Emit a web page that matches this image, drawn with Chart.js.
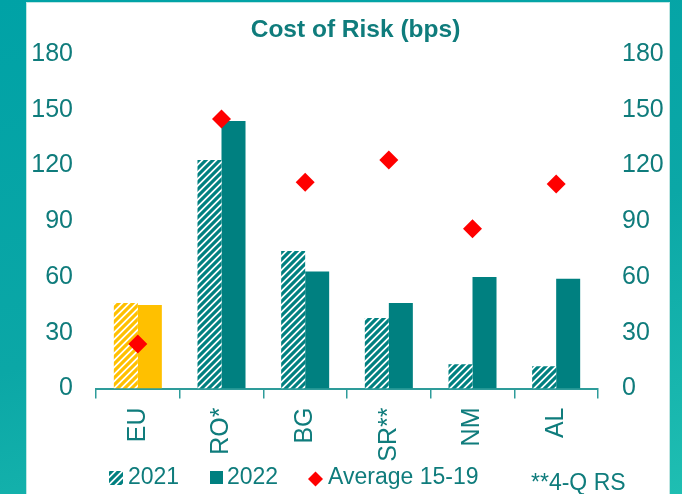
<!DOCTYPE html>
<html>
<head>
<meta charset="utf-8">
<script src="https://cdn.jsdelivr.net/npm/chart.js@4.4.1/dist/chart.umd.min.js"></script>
<style>
  html, body { margin: 0; padding: 0; }
  body {
    width: 682px; height: 494px; overflow: hidden; position: relative;
    background: linear-gradient(165deg, #00a2a6 0%, #0ba7a6 55%, #1fbeb2 100%);
  }
  #panel {
    position: absolute; left: 27px; top: 3px; width: 642px; height: 491px;
    background: #fff; box-shadow: 0 0 0 1px #bfe6e3;
  }
  #chart { display: block; }
</style>
</head>
<body>
<div id="panel"><canvas id="chart" width="642" height="491"></canvas></div>
<script>
// data (bps)
const categories = ['EU', 'RO*', 'BG', 'SR**', 'NM', 'AL'];
const cor2021 = [46, 123, 74, 38, 13, 12];
const cor2022 = [45, 144, 63, 46, 60, 59];
const avg1519 = [24, 145, 111, 123, 86, 110];
const yTicks = [0, 30, 60, 90, 120, 150, 180];

const TEAL = '#008080';
const YELLOW = '#FFC000';
const TEXT = '#0f7c7c';
const AXIS = '#2e9c9a';
const FONT = '"Liberation Sans", Arial, sans-serif';

// diagonal stripes like the excel pattern fill
function hatch(color) {
  const s = 7;
  const c = document.createElement('canvas');
  c.width = s; c.height = s;
  const g = c.getContext('2d');
  g.fillStyle = '#fff';
  g.fillRect(0, 0, s, s);
  g.strokeStyle = color;
  g.lineWidth = 3.2;
  g.beginPath();
  g.moveTo(-2, s + 2); g.lineTo(s + 2, -2);
  g.moveTo(-2, 2); g.lineTo(2, -2);
  g.moveTo(s - 2, s + 2); g.lineTo(s + 2, s - 2);
  g.stroke();
  return g.createPattern(c, 'repeat');
}
const tealHatch = hatch(TEAL);
const yellowHatch = hatch(YELLOW);

// EU is highlighted in yellow
const fill2021 = categories.map(c => c === 'EU' ? yellowHatch : tealHatch);
const fill2022 = categories.map(c => c === 'EU' ? YELLOW : TEAL);

const titleAndLegend = {
  id: 'titleAndLegend',
  afterDraw(chart) {
    const ctx = chart.ctx;
    ctx.save();
    ctx.fillStyle = TEXT;
    ctx.font = 'bold 24.5px ' + FONT;
    ctx.textAlign = 'center';
    ctx.textBaseline = 'middle';
    ctx.fillText('Cost of Risk (bps)', 328.5, 27);

    // legend
    ctx.textAlign = 'left';
    ctx.font = '23px ' + FONT;
    const ly = 475;
    ctx.fillStyle = tealHatch;
    ctx.fillRect(82, ly - 7, 14, 14);
    ctx.fillStyle = TEXT;
    ctx.fillText('2021', 101, ly);

    ctx.fillStyle = TEAL;
    ctx.fillRect(183, ly - 7, 13, 13);
    ctx.fillStyle = TEXT;
    ctx.fillText('2022', 200, ly);

    ctx.fillStyle = '#ff0000';
    ctx.beginPath();
    ctx.moveTo(281, ly + 1); ctx.lineTo(288.5, ly - 6.5);
    ctx.lineTo(296, ly + 1); ctx.lineTo(288.5, ly + 8.5);
    ctx.closePath();
    ctx.fill();
    ctx.fillStyle = TEXT;
    ctx.fillText('Average 15-19', 301, ly);

    ctx.fillText('**4-Q RS', 504, 481);
    ctx.restore();
  }
};

const ctx = document.getElementById('chart').getContext('2d');
new Chart(ctx, {
  data: {
    labels: categories,
    datasets: [
      {
        type: 'line',
        label: 'Average 15-19',
        data: avg1519,
        showLine: false,
        pointStyle: 'rectRot',
        pointRadius: 9.5,
        pointHoverRadius: 9.5,
        pointBackgroundColor: '#ff0000',
        pointBorderWidth: 0,
        order: 0
      },
      {
        type: 'bar',
        label: '2021',
        data: cor2021,
        backgroundColor: fill2021,
        borderWidth: 0,
        barPercentage: 1,
        categoryPercentage: 0.574,
        order: 1
      },
      {
        type: 'bar',
        label: '2022',
        data: cor2022,
        backgroundColor: fill2022,
        borderWidth: 0,
        barPercentage: 1,
        categoryPercentage: 0.574,
        order: 1
      }
    ]
  },
  options: {
    responsive: false,
    animation: false,
    layout: { padding: { top: 51, left: 0, right: 0, bottom: 0 } },
    plugins: {
      legend: { display: false },
      title: { display: false },
      tooltip: { enabled: false }
    },
    scales: {
      x: {
        offset: true,
        afterFit: s => { s.height = 105.5; },
        grid: {
          offset: true,
          drawOnChartArea: false,
          drawTicks: true,
          tickLength: 10,
          color: AXIS,
          lineWidth: 1.5
        },
        border: { display: true, color: AXIS, width: 2 },
        ticks: {
          color: TEXT,
          font: { family: FONT, size: 25 },
          minRotation: 90,
          maxRotation: 90,
          padding: 9,
          autoSkip: false
        }
      },
      y: {
        position: 'left',
        min: yTicks[0],
        max: yTicks[yTicks.length - 1],
        afterFit: s => { s.width = 69; },
        afterBuildTicks: s => { s.ticks = yTicks.map(v => ({ value: v })); },
        grid: { display: false, drawTicks: false },
        border: { display: false },
        ticks: { color: TEXT, font: { family: FONT, size: 25 }, padding: 23 }
      },
      y2: {
        position: 'right',
        min: yTicks[0],
        max: yTicks[yTicks.length - 1],
        afterFit: s => { s.width = 71; },
        afterBuildTicks: s => { s.ticks = yTicks.map(v => ({ value: v })); },
        grid: { display: false, drawTicks: false },
        border: { display: false },
        ticks: { color: TEXT, font: { family: FONT, size: 25 }, padding: 24 }
      }
    }
  },
  plugins: [titleAndLegend]
});
</script>
</body>
</html>
